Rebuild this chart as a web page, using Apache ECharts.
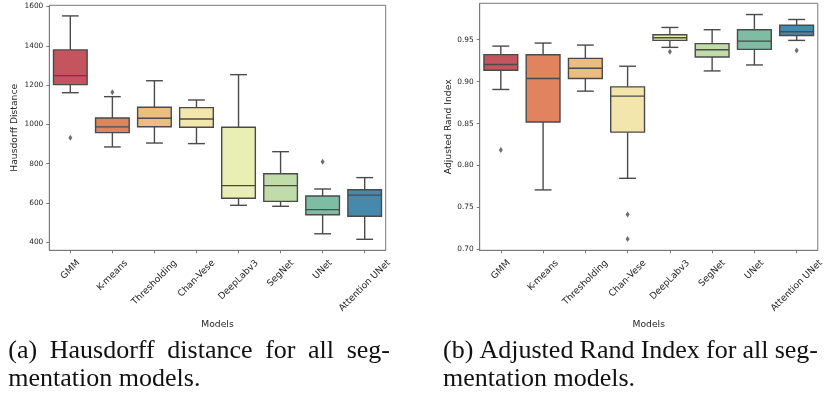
<!DOCTYPE html>
<html><head><meta charset="utf-8">
<script src="https://cdn.jsdelivr.net/npm/echarts@6/dist/echarts.min.js"></script>
<style>html,body{margin:0;padding:0;background:#fff}#c{width:826px;height:398px}</style>
</head><body><div id="c"></div>
<script>
// ---------- data ----------
const categories = ['GMM', 'K-means', 'Thresholding', 'Chan-Vese', 'DeepLabv3', 'SegNet', 'UNet', 'Attention UNet'];

// (a) Hausdorff distance
const hdMin = [1161, 885, 905, 902, 588, 583, 443, 415];
const hdQ1  = [1202, 958, 988, 985, 624, 608, 540, 532];
const hdMed = [1248, 987, 1031, 1027, 688, 688, 566, 640];
const hdQ3  = [1379, 1032, 1087, 1085, 985, 749, 635, 667];
const hdMax = [1552, 1141, 1222, 1124, 1253, 861, 671, 729];
const hdOutliers = [[0, 932], [1, 1163], [6, 810]];
const hdTicks = [400, 600, 800, 1000, 1200, 1400, 1600];

// (b) Adjusted Rand Index
const ariMin = [0.8907, 0.771, 0.8887, 0.7848, 0.9409, 0.9128, 0.9199, 0.9492];
const ariQ1  = [0.9136, 0.852, 0.9038, 0.8398, 0.9492, 0.9294, 0.9385, 0.9551];
const ariMed = [0.9204, 0.9038, 0.916, 0.8828, 0.9524, 0.9381, 0.9483, 0.9595];
const ariQ3  = [0.9322, 0.932, 0.9278, 0.8938, 0.956, 0.9453, 0.9619, 0.9673];
const ariMax = [0.9424, 0.946, 0.9436, 0.9184, 0.9646, 0.9619, 0.980, 0.9741];
const ariOutliers = [[0, 0.8185], [3, 0.7418], [3, 0.7125], [4, 0.9358], [7, 0.937]];
const ariTicks = [0.70, 0.75, 0.80, 0.85, 0.90, 0.95];

const boxColors = ['#c4545e', '#e1835f', '#ebbd81', '#f2e6ad', '#e9efb3', '#c0dca9', '#7ebda3', '#4889ab'];

const captionA = ['(a) Hausdorff distance for all seg-', 'mentation models.'];
const captionB = ['(b) Adjusted Rand Index for all seg-', 'mentation models.'];

// ---------- styling ----------
const EDGE = '#4a4a4a';
const SPINE = '#7a7a7a';
const TXT = '#262626';
const LABEL_FONT = 9.2;

const chart = echarts.init(document.getElementById('c'), null, {renderer: 'canvas'});

const mctx = document.createElement('canvas').getContext('2d');

// rotated, centred tick labels (matplotlib style)
mctx.font = LABEL_FONT + 'px "DejaVu Sans"';
const LMARGIN = 2;
const rich = {};
categories.forEach((c, i) => {
  const w = mctx.measureText(c).width;
  const h = LABEL_FONT * 1.16;
  const D = 7.5 + (w + h) * 0.3536 - LMARGIN;
  const P = D * 1.4142;
  rich['r' + i] = {padding: [P, P, 0, 0], fontSize: LABEL_FONT, fontFamily: 'DejaVu Sans', color: TXT};
});

function boxData(mn, q1, md, q3, mx) {
  return categories.map((c, i) => [i, mn[i], q1[i], md[i], q3[i], mx[i]]);
}

function renderBox(params, api) {
  const i = api.value(0);
  const pMin = api.coord([i, api.value(1)]);
  const pQ1 = api.coord([i, api.value(2)]);
  const pMed = api.coord([i, api.value(3)]);
  const pQ3 = api.coord([i, api.value(4)]);
  const pMax = api.coord([i, api.value(5)]);
  const band = api.size([1, 0])[0];
  const bw = band * 0.8, cw = bw * 0.5;
  const x = pMed[0];
  const ls = {stroke: EDGE, lineWidth: 1.4, fill: null};
  return {
    type: 'group',
    children: [
      {type: 'line', shape: {x1: x, y1: pQ3[1], x2: x, y2: pMax[1]}, style: ls},
      {type: 'line', shape: {x1: x, y1: pQ1[1], x2: x, y2: pMin[1]}, style: ls},
      {type: 'line', shape: {x1: x - cw / 2, y1: pMax[1], x2: x + cw / 2, y2: pMax[1]}, style: ls},
      {type: 'line', shape: {x1: x - cw / 2, y1: pMin[1], x2: x + cw / 2, y2: pMin[1]}, style: ls},
      {type: 'rect', shape: {x: x - bw / 2, y: pQ3[1], width: bw, height: pQ1[1] - pQ3[1]},
        style: {fill: boxColors[i], stroke: EDGE, lineWidth: 1.4}},
      {type: 'line', shape: {x1: x - bw / 2, y1: pMed[1], x2: x + bw / 2, y2: pMed[1]}, style: ls}
    ]
  };
}

function xAxisCfg(gi) {
  return {
    type: 'category', gridIndex: gi, data: categories, boundaryGap: true,
    axisLine: {show: true, lineStyle: {color: SPINE, width: 1}},
    axisTick: {show: true, alignWithLabel: true, length: 3, lineStyle: {color: SPINE}},
    axisLabel: {
      interval: 0, rotate: 45, margin: LMARGIN, align: 'center', verticalAlign: 'middle',
      formatter: (v, i) => '{r' + i + '|' + v + '}', rich: rich
    },
    splitLine: {show: false},
    name: 'Models', nameLocation: 'middle', nameGap: 67,
    nameTextStyle: {fontSize: 9.2, fontFamily: 'DejaVu Sans', color: TXT}
  };
}

function yAxisCfg(gi, mn, mx, ticks, name, gap, fmt) {
  return {
    type: 'value', gridIndex: gi, min: mn, max: mx,
    axisLine: {show: true, lineStyle: {color: SPINE, width: 1}},
    axisTick: {show: true, length: 3, customValues: ticks, lineStyle: {color: SPINE}},
    axisLabel: {customValues: ticks, margin: 6, fontSize: 7.4, fontFamily: 'DejaVu Sans', color: TXT, formatter: fmt},
    splitLine: {show: false},
    name: name, nameLocation: 'middle', nameGap: gap, nameRotate: 90,
    nameTextStyle: {fontSize: 9.2, fontFamily: 'DejaVu Sans', color: TXT}
  };
}

// captions: first line justified between x0 and x1, second line left aligned
const capFont = '26px "Liberation Serif"';
mctx.font = capFont;
function captionWords(lines, x0, x1, y1, y2) {
  const out = [];
  const words = lines[0].split(' ');
  const widths = words.map(w => mctx.measureText(w).width);
  const total = widths.reduce((a, b) => a + b, 0);
  const gap = (x1 - x0 - total) / (words.length - 1);
  let x = x0;
  words.forEach((w, k) => {
    out.push({type: 'text', x: x, y: y1, style: {text: w, font: capFont, fill: '#111', align: 'left', verticalAlign: 'middle'}});
    x += widths[k] + gap;
  });
  out.push({type: 'text', x: x0, y: y2, style: {text: lines[1], font: capFont, fill: '#111', align: 'left', verticalAlign: 'middle'}});
  return out;
}

const option = {
  backgroundColor: '#ffffff',
  animation: false,
  grid: [
    {left: 49.3, top: 5.3, width: 336.4, height: 245, show: true, borderColor: SPINE, borderWidth: 1, backgroundColor: 'transparent'},
    {left: 479.7, top: 3.3, width: 339, height: 247, show: true, borderColor: SPINE, borderWidth: 1, backgroundColor: 'transparent'}
  ],
  xAxis: [xAxisCfg(0), xAxisCfg(1)],
  yAxis: [
    yAxisCfg(0, 359, 1606, hdTicks, 'Hausdorff Distance', 30, v => String(v)),
    yAxisCfg(1, 0.699, 0.9934, ariTicks, 'Adjusted Rand Index', 26.5, v => v.toFixed(2))
  ],
  series: [
    {type: 'custom', xAxisIndex: 0, yAxisIndex: 0, renderItem: renderBox,
      encode: {x: 0, y: [1, 2, 3, 4, 5]}, data: boxData(hdMin, hdQ1, hdMed, hdQ3, hdMax), z: 2},
    {type: 'scatter', xAxisIndex: 0, yAxisIndex: 0, data: hdOutliers, symbol: 'diamond', symbolSize: [4, 6],
      itemStyle: {color: EDGE}, z: 3},
    {type: 'custom', xAxisIndex: 1, yAxisIndex: 1, renderItem: renderBox,
      encode: {x: 0, y: [1, 2, 3, 4, 5]}, data: boxData(ariMin, ariQ1, ariMed, ariQ3, ariMax), z: 2},
    {type: 'scatter', xAxisIndex: 1, yAxisIndex: 1, data: ariOutliers, symbol: 'diamond', symbolSize: [4, 6],
      itemStyle: {color: EDGE}, z: 3}
  ],
  graphic: [].concat(
    captionWords(captionA, 8.3, 390, 351, 379.5),
    captionWords(captionB, 443, 818, 351, 379.5)
  )
};
chart.setOption(option);
</script>
</body></html>
